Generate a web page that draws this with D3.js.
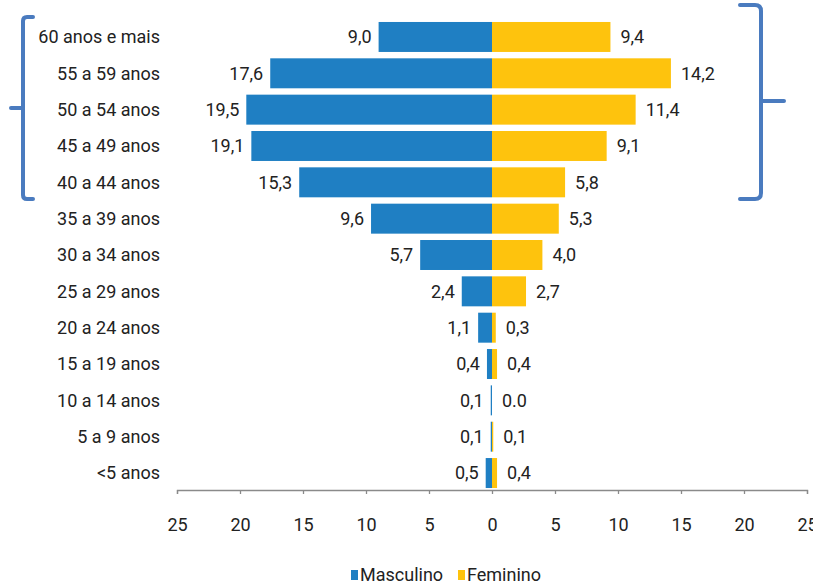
<!DOCTYPE html>
<html>
<head>
<meta charset="utf-8">
<script src="https://cdn.jsdelivr.net/npm/d3@7"></script>
<style>
  body { margin: 0; background: #fff; }
  svg text { font-family: "Liberation Sans Narrow", "Arial Narrow", Roboto, sans-serif; fill: #222; }
</style>
</head>
<body>
<div id="chart"></div>
<script>
const faixas = ["60 anos e mais", "55 a 59 anos", "50 a 54 anos", "45 a 49 anos", "40 a 44 anos",
    "35 a 39 anos", "30 a 34 anos", "25 a 29 anos", "20 a 24 anos", "15 a 19 anos",
    "10 a 14 anos", "5 a 9 anos", "<5 anos"];
const masculino = [9.0, 17.6, 19.5, 19.1, 15.3, 9.6, 5.7, 2.4, 1.1, 0.4, 0.1, 0.1, 0.5];
const feminino = [9.4, 14.2, 11.4, 9.1, 5.8, 5.3, 4.0, 2.7, 0.3, 0.4, 0.0, 0.1, 0.4];
const ticks = [-25, -20, -15, -10, -5, 0, 5, 10, 15, 20, 25];

const width = 813, height = 587;
const blue = "#1f7fc3", yellow = "#fec30d", bracketColor = "#4a7bbf";

const svg = d3.select('#chart').append('svg')
    .attr('width', width)
    .attr('height', height);

const x = d3.scaleLinear().domain([-25, 25]).range([177, 807]);
const y = d3.scaleBand()
    .domain(faixas)
    .range([18.8, 491.2])
    .paddingInner(0.175)
    .paddingOuter(0.0875);

const fmt = v => v === 0 ? "0.0" : d3.format(".1f")(v).replace(".", ",");

// eixo
const xAxis = d3.axisBottom(x)
    .tickValues(ticks)
    .tickSize(4)
    .tickSizeOuter(4)
    .tickFormat(d => Math.abs(d));

const ax = svg.append('g')
    .attr('transform', 'translate(0,490)')
    .call(xAxis);
ax.select('.domain').attr('stroke', '#8a8a8a').attr('stroke-width', 1.3);
ax.selectAll('.tick line').attr('stroke', '#8a8a8a').attr('stroke-width', 1.3);
ax.selectAll('.tick text')
    .attr('y', 28)
    .attr('font-size', 18)
    .style('font-family', '"Liberation Sans Narrow", "Arial Narrow", Roboto, sans-serif')
    .attr('fill', '#222');

// barras
const rows = faixas.map((f, i) => ({ faixa: f, m: masculino[i], f: feminino[i] }));

svg.selectAll('.masc')
    .data(rows)
    .enter()
    .append('rect')
    .attr('class', 'masc')
    .attr('x', d => x(-d.m))
    .attr('y', d => y(d.faixa))
    .attr('width', d => x(0) - x(-d.m))
    .attr('height', y.bandwidth())
    .attr('fill', blue);

svg.selectAll('.fem')
    .data(rows)
    .enter()
    .append('rect')
    .attr('class', 'fem')
    .attr('x', x(0))
    .attr('y', d => y(d.faixa))
    .attr('width', d => x(d.f) - x(0))
    .attr('height', y.bandwidth())
    .attr('fill', yellow);

// rotulos de valor
svg.selectAll('.lm')
    .data(rows)
    .enter()
    .append('text')
    .attr('x', d => x(-d.m) - 7)
    .attr('y', d => y(d.faixa) + y.bandwidth() / 2)
    .attr('dy', '0.35em')
    .attr('text-anchor', 'end')
    .attr('font-size', 18)
    .text(d => fmt(d.m));

svg.selectAll('.lf')
    .data(rows)
    .enter()
    .append('text')
    .attr('x', d => x(d.f) + 10)
    .attr('y', d => y(d.faixa) + y.bandwidth() / 2)
    .attr('dy', '0.35em')
    .attr('font-size', 18)
    .text(d => fmt(d.f));

// categorias
svg.selectAll('.cat')
    .data(faixas)
    .enter()
    .append('text')
    .attr('x', 160)
    .attr('y', d => y(d) + y.bandwidth() / 2)
    .attr('dy', '0.35em')
    .attr('text-anchor', 'end')
    .attr('font-size', 18)
    .text(d => d);

// chaves
svg.append('path')
    .attr('d', 'M33,17 L27,17 Q23,17 23,21 L23,195 Q23,199 27,199 L33,199 M23,108 L11,108')
    .attr('fill', 'none')
    .attr('stroke', bracketColor)
    .attr('stroke-width', 4)
    .attr('stroke-linecap', 'round');

svg.append('path')
    .attr('d', 'M740,5 L755,5 Q761,5 761,11 L761,193 Q761,199 755,199 L740,199 M761,101 L784,101')
    .attr('fill', 'none')
    .attr('stroke', bracketColor)
    .attr('stroke-width', 4)
    .attr('stroke-linecap', 'round');

// legenda
const legend = svg.append('g').attr('transform', 'translate(351,575)');
const items = [{ label: "Masculino", color: blue, dx: 0 }, { label: "Feminino", color: yellow, dx: 107 }];
items.forEach(it => {
    legend.append('rect')
        .attr('x', it.dx)
        .attr('y', -5)
        .attr('width', 7)
        .attr('height', 10)
        .attr('fill', it.color);
    legend.append('text')
        .attr('x', it.dx + 9)
        .attr('y', 0)
        .attr('dy', '0.35em')
        .attr('font-size', 18)
        .text(it.label);
});
</script>
</body>
</html>
